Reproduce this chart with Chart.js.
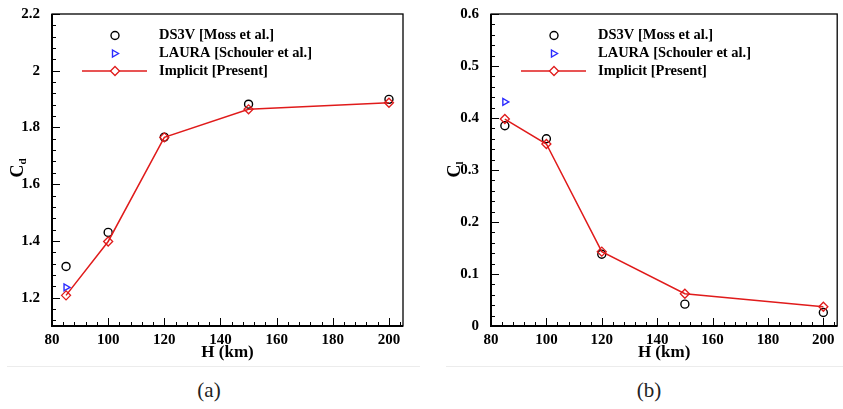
<!DOCTYPE html>
<html>
<head>
<meta charset="utf-8">
<script src="https://cdn.jsdelivr.net/npm/chart.js@4.4.0/dist/chart.umd.min.js"></script>
<style>
  body { margin: 0; background: #fff; width: 843px; height: 409px; position: relative; overflow: hidden; }
  .panel { position: absolute; top: 0; }
  #pa { left: 0; }
  #pb { left: 420px; }
  .sep { position: absolute; top: 366px; height: 1px; background: #ececec; }
  .cap { position: absolute; top: 378px; width: 60px; text-align: center; font-family: 'Liberation Serif', serif; font-size: 21px; color: #222; }
</style>
</head>
<body>
<div class="panel" id="pa"><canvas id="chartA" width="420" height="370"></canvas></div>
<div class="panel" id="pb"><canvas id="chartB" width="423" height="370"></canvas></div>
<div class="sep" style="left:7px;width:413px"></div>
<div class="sep" style="left:446px;width:397px"></div>
<div class="cap" style="left:179px">(a)</div>
<div class="cap" style="left:619px">(b)</div>

<script>
// altitude H (km)
const heights = [85, 100, 120, 150, 200];
const lauraHeights = [85];

// drag coefficient
const ds3vCd = [1.31, 1.43, 1.766, 1.882, 1.899];
const lauraCd = [1.236];
const implicitCd = [1.208, 1.398, 1.765, 1.864, 1.887];

// lift coefficient
const ds3vCl = [0.385, 0.36, 0.138, 0.042, 0.026];
const lauraCl = [0.431];
const implicitCl = [0.398, 0.35, 0.143, 0.062, 0.037];

// tick labels
const xTicks = [80, 100, 120, 140, 160, 180, 200];
const cdTicks = [1.2, 1.4, 1.6, 1.8, 2, 2.2];
const clTicks = [0, 0.1, 0.2, 0.3, 0.4, 0.5, 0.6];

const legendNames = ['DS3V [Moss et al.]', 'LAURA [Schouler et al.]', 'Implicit [Present]'];

const RED = '#e01b1b';
const BLUE = '#2b2bff';
const FONT = "'Liberation Serif', serif";

function pts(xs, ys) {
    return xs.map((x, i) => ({ x: x, y: ys[i] }));
}

// box, inward ticks, legend and y title
const framePlugin = {
    id: 'frame',
    afterDraw(chart, args, opts) {
        const { ctx, chartArea: a, scales: { x, y } } = chart;
        ctx.save();
        ctx.strokeStyle = '#000';

        // x ticks, every 4 km
        ctx.lineWidth = 1;
        for (let i = 0; i <= 31; i++) {
            const v = 80 + 4 * i;
            const px = Math.round(x.getPixelForValue(v)) + 0.5;
            const len = i % 5 === 0 ? 8 : 4;
            ctx.beginPath();
            ctx.moveTo(px, a.bottom);
            ctx.lineTo(px, a.bottom - len);
            ctx.stroke();
        }
        // y ticks
        for (let k = opts.kFrom; k <= opts.kTo; k++) {
            const v = opts.yBase + k * opts.yMinor;
            const py = Math.round(y.getPixelForValue(v)) + 0.5;
            const len = k % 5 === 0 ? 8 : 4;
            ctx.beginPath();
            ctx.moveTo(a.left, py);
            ctx.lineTo(a.left + len, py);
            ctx.stroke();
        }

        // box
        ctx.lineWidth = 1.3;
        ctx.strokeRect(a.left, a.top, a.right - a.left, a.bottom - a.top);
        ctx.lineWidth = 2;
        ctx.beginPath();
        ctx.moveTo(a.left, a.top);
        ctx.lineTo(a.left, a.bottom);
        ctx.lineTo(a.right, a.bottom);
        ctx.stroke();

        // legend
        const mx = a.left + 63;
        const tx = a.left + 107;
        const rows = [a.top + 21.5, a.top + 39.5, a.top + 57];
        const ds = chart.data.datasets;
        ctx.font = 'bold 14.5px ' + FONT;
        ctx.fillStyle = '#000';
        ctx.textBaseline = 'middle';
        ctx.textAlign = 'left';
        legendNames.forEach((name, i) => ctx.fillText(name, tx, rows[i]));

        // circle
        ctx.strokeStyle = ds[1].borderColor;
        ctx.lineWidth = 1.4;
        ctx.beginPath();
        ctx.arc(mx, rows[0], 4, 0, Math.PI * 2);
        ctx.stroke();
        // triangle pointing right
        ctx.strokeStyle = ds[2].borderColor;
        ctx.beginPath();
        ctx.moveTo(mx - 2.5, rows[1] - 3.5);
        ctx.lineTo(mx + 3.5, rows[1]);
        ctx.lineTo(mx - 2.5, rows[1] + 3.5);
        ctx.closePath();
        ctx.stroke();
        // line + diamond
        ctx.strokeStyle = ds[0].borderColor;
        ctx.lineWidth = 1.5;
        ctx.beginPath();
        ctx.moveTo(a.left + 30, rows[2]);
        ctx.lineTo(a.left + 95, rows[2]);
        ctx.stroke();
        ctx.fillStyle = '#fff';
        ctx.lineWidth = 1.3;
        ctx.beginPath();
        ctx.moveTo(mx, rows[2] - 4.5);
        ctx.lineTo(mx + 4.5, rows[2]);
        ctx.lineTo(mx, rows[2] + 4.5);
        ctx.lineTo(mx - 4.5, rows[2]);
        ctx.closePath();
        ctx.fill();
        ctx.stroke();

        // y title with subscript
        ctx.translate(opts.titleX, 171);
        ctx.rotate(-Math.PI / 2);
        ctx.fillStyle = '#000';
        ctx.textAlign = 'left';
        ctx.textBaseline = 'middle';
        ctx.font = 'bold 18px ' + FONT;
        const cw = ctx.measureText('C').width;
        ctx.fillText('C', -cw / 2, 0);
        ctx.font = 'bold 11px ' + FONT;
        ctx.fillText(opts.sub, cw / 2, 5);
        ctx.restore();
    }
};

function makeChart(id, cfg) {
    const tickFont = { family: FONT, size: 15, weight: 'bold' };
    return new Chart(document.getElementById(id), {
        type: 'scatter',
        data: {
            datasets: [
                {
                    label: legendNames[2],
                    data: pts(heights, cfg.implicit),
                    showLine: true,
                    borderColor: RED,
                    backgroundColor: 'rgba(0,0,0,0)',
                    borderWidth: 1.5,
                    pointStyle: 'rectRot',
                    pointRadius: 4.5,
                    pointBorderWidth: 1.3,
                    pointBorderColor: RED,
                    pointBackgroundColor: 'rgba(0,0,0,0)',
                    order: 0
                },
                {
                    label: legendNames[0],
                    data: pts(heights, cfg.ds3v),
                    borderColor: '#000',
                    backgroundColor: 'rgba(0,0,0,0)',
                    pointStyle: 'circle',
                    pointRadius: 4,
                    pointBorderWidth: 1.4,
                    order: 1
                },
                {
                    label: legendNames[1],
                    data: pts(lauraHeights, cfg.laura),
                    borderColor: BLUE,
                    backgroundColor: 'rgba(0,0,0,0)',
                    pointStyle: 'triangle',
                    pointRotation: 90,
                    pointRadius: 4,
                    pointBorderWidth: 1.4,
                    order: 2
                }
            ]
        },
        options: {
            responsive: false,
            animation: false,
            events: [],
            layout: { padding: { top: 14, right: cfg.padRight, bottom: 7, left: 0 } },
            plugins: {
                legend: { display: false },
                tooltip: { enabled: false },
                frame: cfg.frame
            },
            scales: {
                x: {
                    type: 'linear',
                    min: 80,
                    max: 205,
                    grid: { display: false },
                    border: { display: false },
                    afterBuildTicks: s => { s.ticks = xTicks.map(v => ({ value: v })); },
                    afterFit: s => { s.height = 37; },
                    ticks: { font: tickFont, color: '#000', padding: -3, maxRotation: 0, callback: v => String(v) },
                    title: {
                        display: true,
                        text: 'H (km)',
                        font: { family: FONT, size: 17, weight: 'bold' },
                        color: '#000',
                        padding: { top: -3, bottom: 0 }
                    }
                },
                y: {
                    type: 'linear',
                    min: cfg.yMin,
                    max: cfg.yMax,
                    grid: { display: false },
                    border: { display: false },
                    afterBuildTicks: s => { s.ticks = cfg.yTicks.map(v => ({ value: v })); },
                    afterFit: s => { s.width = cfg.yWidth; },
                    ticks: { font: tickFont, color: '#000', padding: 4, callback: v => String(v) }
                }
            }
        },
        plugins: [framePlugin]
    });
}

makeChart('chartA', {
    implicit: implicitCd, ds3v: ds3vCd, laura: lauraCd,
    yMin: 1.1, yMax: 2.2, yTicks: cdTicks,
    yWidth: 52, padRight: 17,
    frame: { yBase: 1.2, yMinor: 0.04, kFrom: -2, kTo: 25, titleX: 18, sub: 'd' }
});

makeChart('chartB', {
    implicit: implicitCl, ds3v: ds3vCl, laura: lauraCl,
    yMin: 0, yMax: 0.6, yTicks: clTicks,
    yWidth: 71, padRight: 1,
    frame: { yBase: 0, yMinor: 0.02, kFrom: 0, kTo: 30, titleX: 35, sub: 'l' }
});
</script>
</body>
</html>
